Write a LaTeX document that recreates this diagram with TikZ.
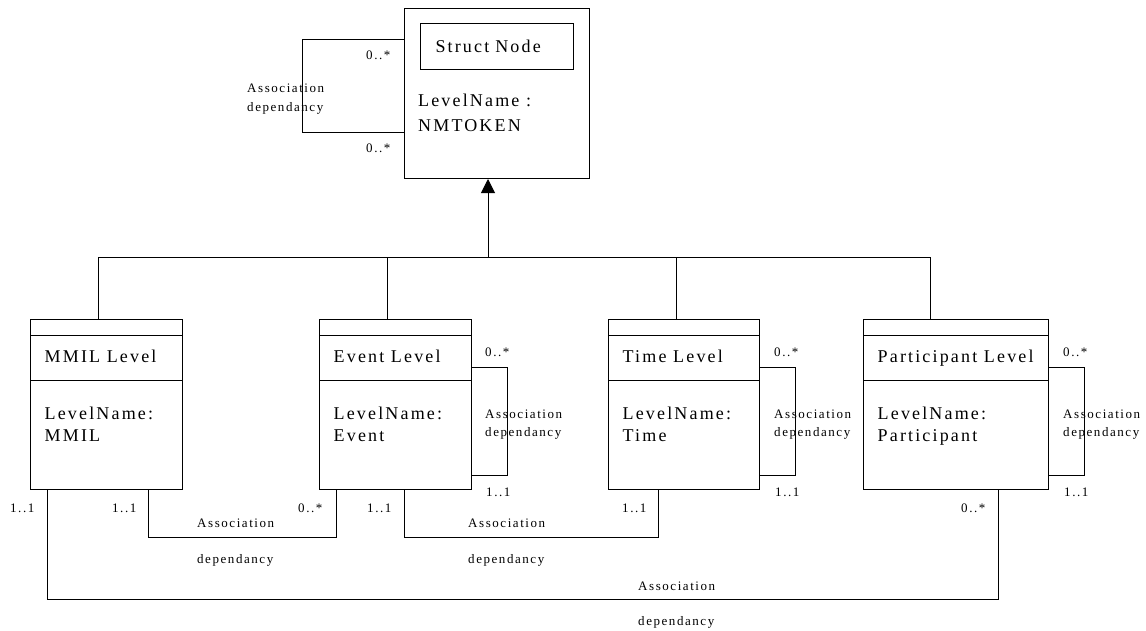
\documentclass[tikz,border=0pt]{standalone}
\usepackage{fontspec}
\setmainfont[LetterSpace=12]{Liberation Serif}
\usetikzlibrary{arrows.meta}
\tikzset{
  classbox/.style={draw, line width=1pt, minimum height=170pt, inner sep=0pt, anchor=north west},
  bigtext/.style={anchor=west, inner sep=0pt, text height=12pt, text depth=0pt, font=\fontsize{18}{22}\selectfont},
  smalltext/.style={anchor=west, inner sep=0pt, text height=9pt, text depth=0pt, font=\fontsize{13}{16}\selectfont},
  link/.style={line width=1pt}
}
\begin{document}
\begin{tikzpicture}[x=1pt,y=-1pt]
  \useasboundingbox (0,0) rectangle (1146,630);
  \node[classbox, minimum width=185pt] (struct) at (404,8) {};
  \node[draw, line width=1pt, anchor=north west, minimum width=153pt, minimum height=46pt, text width=123pt, inner xsep=15pt, inner ysep=0pt, align=left, font=\fontsize{18}{22}\selectfont] (structname) at (420,23) {Struct Node};
  \node[bigtext] (structattr) at (418,100) {LevelName :};
  \node[bigtext] (structval) at (418,125) {NMTOKEN};
  \foreach \n/\x/\w/\t/\v in {mmil/30/152/MMIL Level/MMIL, event/319/152/Event Level/Event, time/608/151/Time Level/Time, part/863/185/Participant Level/Participant} {
    \node[classbox, minimum width=\w pt] (\n) at (\x,319) {};
    \draw[link] ([yshift=-16pt]\n.north west) -- ([yshift=-16pt]\n.north east);
    \draw[link] ([yshift=-61pt]\n.north west) -- ([yshift=-61pt]\n.north east);
    \node[bigtext] (\n-title) at (\x+14.5,356) {\t};
    \node[bigtext] (\n-attr) at (\x+14.5,413) {LevelName:};
    \node[bigtext] (\n-val) at (\x+14.5,435) {\v};
  }
  \coordinate (busjoin) at (488,257);
  \draw[link] (98,257) -- (930,257);
  \draw[link, -{Triangle[width=14pt,length=14pt]}] (busjoin) -- (busjoin |- struct.south);
  \foreach \n/\x in {mmil/98, event/387, time/676, part/930}
    \draw[link] (\x,257) -- (\x,0 |- \n.north);
  \draw[link] (struct.west |- 0,39) -- (302,39) -- (302,132) -- (struct.west |- 0,132);
  \foreach \n in {event,time,part}
    \draw[link] (\n.east |- 0,367) -- ++(35,0) -- ++(0,108) -- (\n.east |- 0,475);
  \draw[link] (mmil.south -| 47,0) -- (47,599) -- (998,599) -- (998,0 |- part.south);
  \draw[link] (mmil.south -| 148,0) -- (148,537) -- (336,537) -- (336,0 |- event.south);
  \draw[link] (event.south -| 404,0) -- (404,537) -- (658,537) -- (658,0 |- time.south);
  \foreach [count=\i] \x/\y/\t in {366/55/0..*, 366/148/0..*, 247/88/Association, 247/107/dependancy,
      485/352/0..*, 485/414/Association, 485/432/dependancy, 486/492/1..1,
      774/352/0..*, 774/414/Association, 774/432/dependancy, 775/492/1..1,
      1063/352/0..*, 1063/414/Association, 1063/432/dependancy, 1064/492/1..1,
      10/508/1..1, 112/508/1..1, 298/508/0..*, 197/523/Association, 197/559/dependancy,
      367/508/1..1, 468/523/Association, 468/559/dependancy,
      622/508/1..1, 638/586/Association, 638/621/dependancy, 961/508/0..*}
    \node[smalltext] (lab\i) at (\x,\y) {\t};
\end{tikzpicture}
\end{document}
